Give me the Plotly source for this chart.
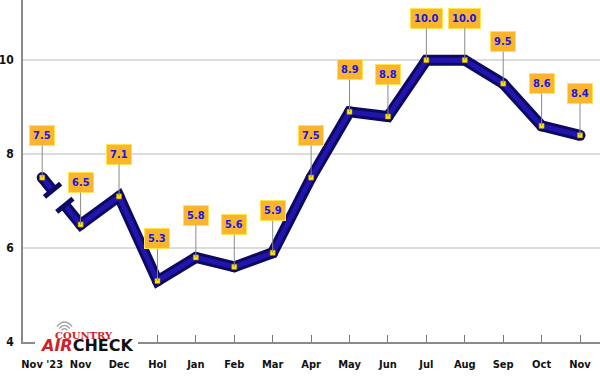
import math
import plotly.graph_objects as go

categories = ["Nov '23", "Nov", "Dec", "Hol", "Jan", "Feb", "Mar", "Apr",
              "May", "Jun", "Jul", "Aug", "Sep", "Oct", "Nov"]
values = [7.5, 6.5, 7.1, 5.3, 5.8, 5.6, 5.9, 7.5, 8.9, 8.8, 10.0, 10.0, 9.5, 8.6, 8.4]
value_labels = [f"{v:.1f}" for v in values]
y_ticks = [4, 6, 8, 10]

x = list(range(len(values)))

W, H = 600, 376
ML, MR, MT, MB = 23, 0, 0, 34
XR = [-0.5, 14.52]
YR = [4, 11.28]
pxx = (W - ML - MR) / (XR[1] - XR[0])
pxy = (H - MT - MB) / (YR[1] - YR[0])

FONT = "DejaVu Sans Condensed, Liberation Sans Narrow, sans-serif"
DARK = "#0c0a60"
MID = "#2314ad"

# axis-break decoration on the first segment
t1, t2 = 0.27, 0.59
def along(t):
    return (x[0] + t * (x[1] - x[0]), values[0] + t * (values[1] - values[0]))
b1, b2 = along(t1), along(t2)
seg_ang = math.degrees(math.atan2((values[0] - values[1]) * pxy, (x[1] - x[0]) * pxx))
bar_ang = seg_ang - 90

segs = [([x[0], b1[0]], [values[0], b1[1]]),
        ([b2[0]] + x[1:], [b2[1]] + values[1:])]

fig = go.Figure()
for sx, sy in segs:
    fig.add_trace(go.Scatter(x=sx, y=sy, mode="lines", line=dict(color=DARK, width=11),
                             hoverinfo="skip", showlegend=False))
fig.add_trace(go.Scatter(x=x, y=values, mode="markers",
                         marker=dict(symbol="circle", size=11, color=DARK, line=dict(width=0)),
                         hoverinfo="skip", showlegend=False))
for sx, sy in segs:
    fig.add_trace(go.Scatter(x=sx, y=sy, mode="lines", line=dict(color=MID, width=5),
                             hoverinfo="skip", showlegend=False))
fig.add_trace(go.Scatter(x=[b1[0], b2[0]], y=[b1[1], b2[1]], mode="markers",
                         marker=dict(symbol="line-ew", size=15, angle=bar_ang,
                                     line=dict(color=DARK, width=5)),
                         hoverinfo="skip", showlegend=False))
fig.add_trace(go.Scatter(x=x, y=values, mode="markers",
                         marker=dict(symbol="square", size=5, color="#FFE600",
                                     line=dict(color="#b89a00", width=0.5)),
                         hoverinfo="skip", showlegend=False))

annotations = []
for xi, v, lab in zip(x, values, value_labels):
    annotations.append(dict(
        x=xi, y=v, xref="x", yref="y", text=f"<b>{lab}</b>",
        showarrow=True, arrowhead=0, arrowwidth=1, arrowcolor="#8a8a8a",
        ax=0, ay=-42, standoff=0,
        bgcolor="#FBB52C", bordercolor="#FFE44D", borderwidth=1, borderpad=3,
        font=dict(family=FONT, size=11, color="#1616e8")))

def px2paper(px, py):
    return ((px - ML) / (W - ML - MR), (H - MB - py) / (H - MT - MB))

ax_, ay_ = px2paper(86.5, 346)
annotations.append(dict(x=ax_, y=ay_, xref="paper", yref="paper", showarrow=False,
                        text="<span style='color:#d0202a'><i>AIR</i></span>CHECK",
                        xanchor="center", yanchor="middle",
                        font=dict(family="DejaVu Sans", size=16, color="#111", weight="bold")))
cx_, cy_ = px2paper(84, 335.5)
annotations.append(dict(x=cx_, y=cy_, xref="paper", yref="paper", showarrow=False,
                        text="COUNTRY", xanchor="center", yanchor="middle",
                        font=dict(family="DejaVu Serif", size=10, color="#d0202a", weight="bold")))

shapes = []
r0x, r0y = px2paper(35, 355)
r1x, r1y = px2paper(138, 331)
shapes.append(dict(type="rect", xref="paper", yref="paper", x0=r0x, y0=r0y, x1=r1x, y1=r1y,
                   fillcolor="white", line=dict(width=0), layer="above"))
wx, wy = px2paper(64.5, 333)
th = math.radians(50)
for r in (4, 7, 10):
    path = (f"M {-r*math.sin(th):.2f},{r*math.cos(th):.2f} "
            f"Q 0,{r/math.cos(th):.2f} {r*math.sin(th):.2f},{r*math.cos(th):.2f}")
    shapes.append(dict(type="path", xref="paper", yref="paper", xsizemode="pixel",
                       ysizemode="pixel", xanchor=wx, yanchor=wy, path=path,
                       line=dict(color="#a0a0a0", width=1.3), layer="above"))

fig.update_layout(
    width=W, height=H, margin=dict(l=ML, r=MR, t=MT, b=MB, autoexpand=False),
    paper_bgcolor="white", plot_bgcolor="white",
    annotations=annotations, shapes=shapes, showlegend=False,
    xaxis=dict(range=XR, tickvals=x, ticktext=categories, showgrid=False, zeroline=False,
               showline=True, linecolor="#8a8a8a", linewidth=1.5,
               ticks="inside", ticklen=7, tickcolor="#777", tickwidth=1,
               tickfont=dict(family=FONT, size=11, color="#111", weight="bold"),
               ticklabelstandoff=11, automargin=False),
    yaxis=dict(range=YR, tickvals=y_ticks, showgrid=True, gridcolor="#dcdcdc", gridwidth=1.5,
               zeroline=False, showline=True, linecolor="#8a8a8a", linewidth=1.5, ticks="",
               tickfont=dict(family=FONT, size=12, color="#111", weight="bold"),
               ticklabelstandoff=5, automargin=False),
)

fig.write_html("out.html", config={"displayModeBar": False},
               post_script="document.body.style.margin='0';")
